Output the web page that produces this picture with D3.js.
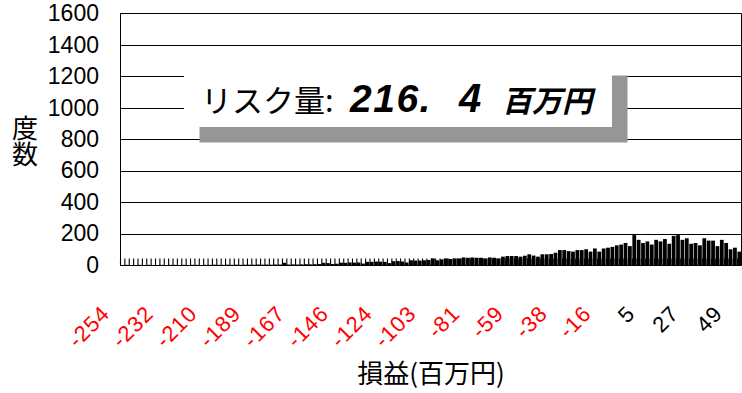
<!DOCTYPE html>
<html>
<head>
<meta charset="utf-8">
<script src="https://cdn.jsdelivr.net/npm/d3@7/dist/d3.min.js"></script>
<style>
  html, body { margin: 0; padding: 0; background: #fff; }
  svg { display: block; }
</style>
</head>
<body>
<svg id="chart" width="742" height="393"></svg>
<script>
// Frequency of simulated P&L outcomes per bin (142 bins, left = largest loss)
const freq = [
  0, 1, 0, 0, 1, 0, 1, 0, 0, 1,
  0, 1, 1, 0, 1, 0, 1, 1, 0, 1,
  1, 2, 1, 1, 2, 1, 2, 1, 2, 2,
  2, 3, 2, 3, 2, 3,
  3, 14, 3, 4, 3, 4, 5, 4, 5, 6,
  14, 12, 6, 8, 15, 14, 16, 15, 16, 9, 20, 20, 22, 21, 20, 12, 24, 25, 22, 16, 30, 28, 28, 30,
  32, 42, 30, 36, 42, 38, 42, 42, 48, 46, 48, 46, 46, 42, 48, 46, 42, 53, 57, 57, 57, 53, 59,
  68, 60, 53, 68, 68, 70, 78, 95, 95, 88, 85, 95, 95, 100, 85, 105, 85, 105, 110, 115, 125, 130, 140, 120,
  190, 160, 140, 150, 130, 160, 150, 165, 135, 185, 190, 160, 170, 135, 140, 125, 170, 155, 155, 120, 160, 140, 100, 110, 85
];

// Category labels, one every tenth bin (百万円)
const tickLabels = ["-254", "-232", "-210", "-189", "-167", "-146", "-124", "-103",
                    "-81", "-59", "-38", "-16", "5", "27", "49"];
const labelEvery = 10;

const yTicks = [0, 200, 400, 600, 800, 1000, 1200, 1400, 1600];

const riskLabel = "リスク量";
const riskValueInt = "216.";
const riskValueDec = " 4";
const riskUnit = "百万円";
const xTitle = "損益(百万円)";
const yTitle = "度数";

const svg = d3.select("#chart");
const plot = { left: 120, right: 741.5, top: 13.3, bottom: 265 };

const bins = d3.range(freq.length);
const x = d3.scaleBand().domain(bins).range([plot.left, plot.right]).paddingInner(0.14).paddingOuter(0.07);
const xEdge = d3.scaleLinear().domain([0, freq.length]).range([plot.left, plot.right]);
const y = d3.scaleLinear().domain([0, 1600]).range([plot.bottom, plot.top]);

const crisp = v => Math.round(v) + 0.5;

// horizontal gridlines
svg.append("g")
  .selectAll("line")
  .data(yTicks.filter(d => d > 0))
  .join("line")
  .attr("x1", plot.left).attr("x2", plot.right)
  .attr("y1", d => crisp(y(d))).attr("y2", d => crisp(y(d)))
  .attr("stroke", "#000").attr("stroke-width", 1);

// right border of the plot area
svg.append("line")
  .attr("x1", crisp(plot.right) - 1).attr("x2", crisp(plot.right) - 1)
  .attr("y1", crisp(y(1600))).attr("y2", crisp(y(0)))
  .attr("stroke", "#000");

// bars
svg.append("g")
  .selectAll("rect")
  .data(freq)
  .join("rect")
  .attr("x", (d, i) => x(i))
  .attr("width", x.bandwidth())
  .attr("y", d => y(d))
  .attr("height", d => y(0) - y(d))
  .attr("fill", "#000");

// inside tick marks at bin boundaries
const tickAxis = d3.axisBottom(xEdge)
  .tickValues(d3.range(freq.length + 1))
  .tickSize(-7)
  .tickFormat("");
svg.append("g")
  .attr("transform", `translate(0,${crisp(y(0))})`)
  .call(tickAxis)
  .call(g => g.select(".domain").remove())
  .call(g => g.selectAll(".tick line").attr("stroke", "#000").attr("stroke-width", 1.1));

// axis lines
svg.append("line")
  .attr("x1", plot.left).attr("x2", plot.right)
  .attr("y1", crisp(y(0))).attr("y2", crisp(y(0)))
  .attr("stroke", "#000");
svg.append("line")
  .attr("x1", crisp(plot.left)).attr("x2", crisp(plot.left))
  .attr("y1", crisp(y(1600))).attr("y2", crisp(y(0)) + 0.5)
  .attr("stroke", "#000");

// y axis labels
const yAxis = d3.axisLeft(y).tickValues(yTicks).tickSize(0).tickPadding(21).tickFormat(d3.format("d"));
svg.append("g")
  .attr("transform", `translate(${plot.left},0)`)
  .call(yAxis)
  .call(g => g.select(".domain").remove())
  .call(g => g.selectAll("text")
    .attr("font-family", "'Liberation Sans', Arial, sans-serif")
    .attr("font-size", 23)
    .attr("fill", "#000"));

// x category labels, rotated, red for losses
const labelBins = bins.filter(i => i % labelEvery === 0);
const xAxis = d3.axisBottom(x)
  .tickValues(labelBins)
  .tickSize(0)
  .tickFormat(i => tickLabels[i / labelEvery]);
svg.append("g")
  .attr("transform", `translate(0,${plot.bottom})`)
  .call(xAxis)
  .call(g => g.select(".domain").remove())
  .call(g => g.selectAll(".tick text")
    .attr("font-family", "'Liberation Sans', Arial, sans-serif")
    .attr("font-size", 22)
    .attr("letter-spacing", 1)
    .attr("text-anchor", "end")
    .attr("dy", 0)
    .attr("y", 0)
    .attr("transform", "translate(-11,50) rotate(-45)")
    .attr("fill", (i) => tickLabels[i / labelEvery].startsWith("-") ? "#ff0000" : "#000"));

// axis titles
svg.append("text")
  .attr("x", 431)
  .attr("y", 383)
  .attr("text-anchor", "middle")
  .attr("font-family", "'Noto Sans CJK JP', sans-serif")
  .attr("font-size", 26)
  .attr("fill", "#000")
  .text(xTitle);

svg.append("text")
  .attr("x", 25)
  .attr("y", 141)
  .attr("text-anchor", "middle")
  .attr("writing-mode", "tb")
  .attr("font-family", "'Noto Sans CJK JP', sans-serif")
  .attr("font-size", 26)
  .attr("fill", "#000")
  .text(yTitle);

// risk amount callout with drop shadow
const box = { x: 184, y: 60, w: 428, h: 67, off: 15.5 };
const callout = svg.append("g");
callout.append("rect")
  .attr("x", box.x + box.off).attr("y", box.y + box.off)
  .attr("width", box.w).attr("height", box.h)
  .attr("fill", "#969696");
callout.append("rect")
  .attr("x", box.x).attr("y", box.y)
  .attr("width", box.w).attr("height", box.h)
  .attr("fill", "#fff");
const t = callout.append("text")
  .attr("y", box.y + 52)
  .attr("fill", "#000")
  .attr("font-family", "'Noto Sans CJK JP', sans-serif");
t.append("tspan").attr("x", box.x + 17).attr("font-size", 31).text(riskLabel);
t.append("tspan").attr("x", box.x + 141).attr("font-size", 31).text(":");
t.append("tspan").attr("x", box.x + 166)
  .attr("font-family", "'Liberation Sans', Arial, sans-serif")
  .attr("font-size", 39).attr("font-style", "italic").attr("font-weight", "bold")
  .attr("letter-spacing", 1.5)
  .text(riskValueInt);
t.append("tspan").attr("x", box.x + 264)
  .attr("font-family", "'Liberation Sans', Arial, sans-serif")
  .attr("font-size", 40).attr("font-style", "italic").attr("font-weight", "bold")
  .text(riskValueDec);
t.append("tspan").attr("x", box.x + 318)
  .attr("font-size", 30).attr("font-weight", "bold").attr("font-style", "italic")
  .text(riskUnit);
</script>
</body>
</html>
